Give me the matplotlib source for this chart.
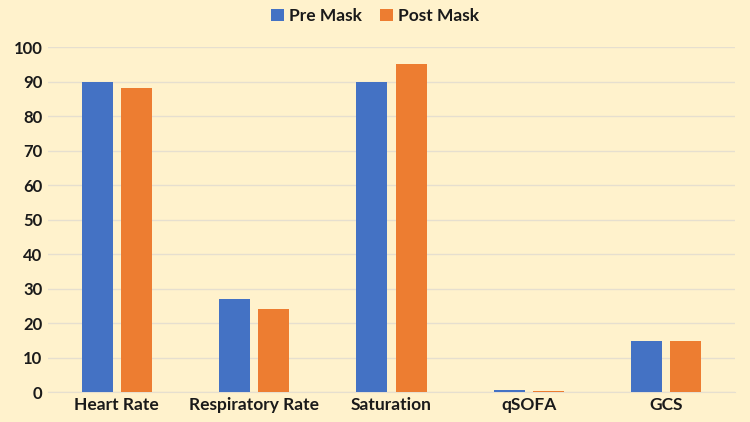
import matplotlib
matplotlib.use('Agg')
import matplotlib.pyplot as plt
import numpy as np

# Data
categories = ['Heart Rate', 'Respiratory Rate', 'Saturation', 'qSOFA', 'GCS']
pre_mask = [90, 27, 90, 0.8, 15]
post_mask = [88, 24, 95, 0.5, 15]
y_ticks = [0, 10, 20, 30, 40, 50, 60, 70, 80, 90, 100]

bg_color = '#FFF2CC'
pre_color = '#4472C4'
post_color = '#ED7D31'
grid_color = '#E6DFCF'
text_color = '#1A1A1A'

plt.rcParams['font.family'] = ['Lato', 'DejaVu Sans']
plt.rcParams['font.weight'] = 'bold'

fig = plt.figure(figsize=(7.5, 4.22), dpi=100, facecolor=bg_color)
ax = fig.add_axes([0.064, 0.0703, 0.916, 0.8183])
ax.set_facecolor(bg_color)

x = np.arange(len(categories))
width = 0.226
gap = 0.06
ax.bar(x - (width + gap) / 2, pre_mask, width, color=pre_color, label='Pre Mask', zorder=3)
ax.bar(x + (width + gap) / 2, post_mask, width, color=post_color, label='Post Mask', zorder=3)

ax.set_xlim(-0.5, len(categories) - 0.5)
ax.set_ylim(0, 100)
ax.set_yticks(y_ticks)
ax.set_xticks(x)
ax.set_xticklabels(categories)
ax.tick_params(axis='x', length=0, labelsize=12.5, colors=text_color, pad=3)
ax.tick_params(axis='y', length=0, labelsize=12, colors=text_color, pad=4)
for lbl in ax.get_xticklabels() + ax.get_yticklabels():
    lbl.set_fontweight('bold')

ax.grid(axis='y', color=grid_color, linewidth=1, zorder=0)
ax.set_axisbelow(True)
for side in ['top', 'right', 'left']:
    ax.spines[side].set_visible(False)
ax.spines['bottom'].set_color(grid_color)
ax.spines['bottom'].set_zorder(0)

leg = fig.legend(loc='center', bbox_to_anchor=(0.5, 0.962), ncol=2, frameon=False,
                 fontsize=12.5, handlelength=0.75, handleheight=0.75, handletextpad=0.3,
                 columnspacing=1.0)
for t in leg.get_texts():
    t.set_fontweight('bold')
    t.set_color(text_color)

fig.savefig('out.png', dpi=100, facecolor=bg_color)
